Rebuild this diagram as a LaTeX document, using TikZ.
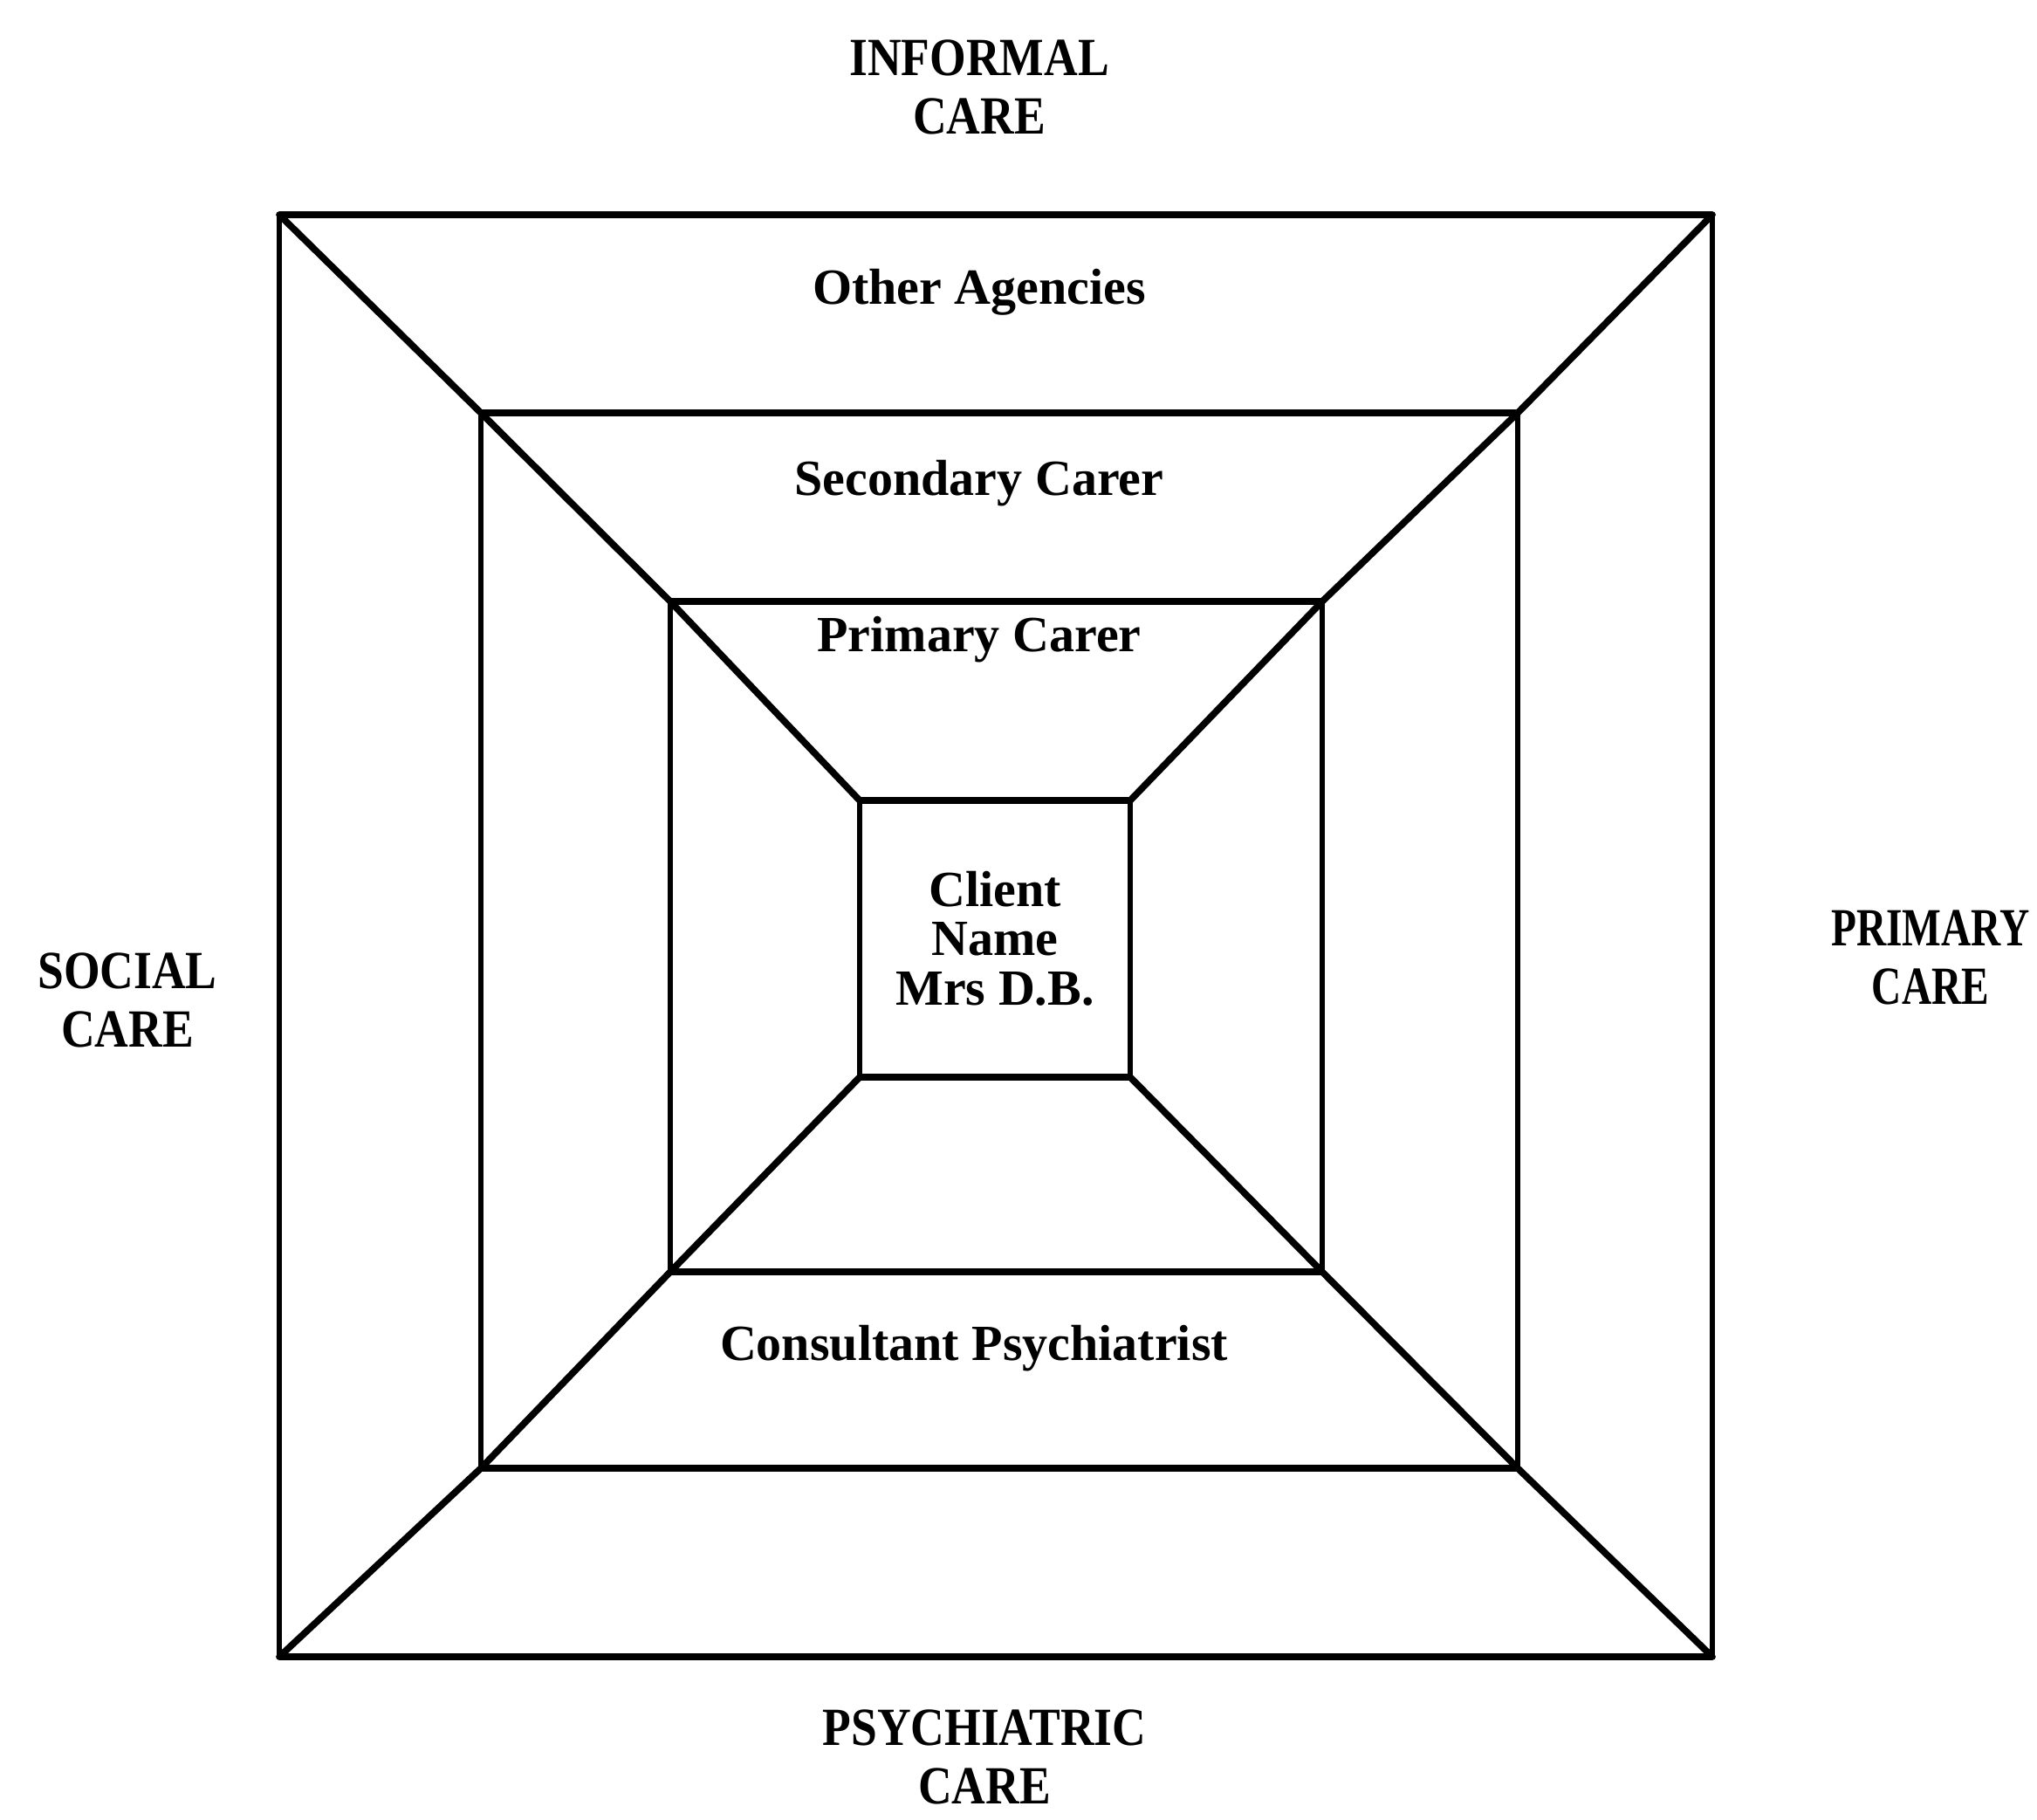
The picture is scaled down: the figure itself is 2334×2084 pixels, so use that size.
\documentclass[tikz,border=0pt]{standalone}
\usepackage{fontspec}
\setmainfont{Liberation Serif}
\newfontfamily\capfont{Liberation Serif}[FakeStretch=0.87]
\newfontfamily\narrowcapfont{Liberation Serif}[FakeStretch=0.77]
\begin{document}
\begin{tikzpicture}[x=0.01cm,y=-0.01cm,
  hline/.style={line width=2.4pt},
  vline/.style={line width=1.7pt},
  diag/.style={line width=2.2pt, line cap=round},
  caption/.style={font=\capfont\fontsize{17.5}{19}\selectfont\bfseries, align=center, inner sep=0pt},
  ring/.style={font=\fontsize{16.5}{16}\selectfont\bfseries, align=center, inner sep=0pt}]
\useasboundingbox (0,0) rectangle (2334,2084);
% corners of the four nested frames
\coordinate (otl) at (320,246);  \coordinate (otr) at (1962,246);
\coordinate (obl) at (320,1898); \coordinate (obr) at (1962,1898);
\coordinate (stl) at (551,473);  \coordinate (str) at (1739,473);
\coordinate (sbl) at (551,1682); \coordinate (sbr) at (1739,1682);
\coordinate (ttl) at (768,689);  \coordinate (ttr) at (1515,689);
\coordinate (tbl) at (768,1457); \coordinate (tbr) at (1515,1457);
\coordinate (ctl) at (985,917);  \coordinate (ctr) at (1295,917);
\coordinate (cbl) at (985,1234); \coordinate (cbr) at (1295,1234);
% diagonals joining the corners
\draw[diag] (otl) -- (stl) -- (ttl) -- (ctl);
\draw[diag] (otr) -- (str) -- (ttr) -- (ctr);
\draw[diag] (obl) -- (sbl) -- (tbl) -- (cbl);
\draw[diag] (obr) -- (sbr) -- (tbr) -- (cbr);
% horizontal edges
\foreach \a/\b in {otl/otr,obl/obr,stl/str,sbl/sbr,ttl/ttr,tbl/tbr,ctl/ctr,cbl/cbr}
  \draw[hline] (\a) -- (\b);
% vertical edges
\foreach \a/\b in {otl/obl,otr/obr,stl/sbl,str/sbr,ttl/tbl,ttr/tbr,ctl/cbl,ctr/cbr}
  \draw[vline] (\a) -- (\b);
% outer captions
\node[caption] (informal) at (1122,100) {INFORMAL\\CARE};
\node[caption] (social) at (146,1146) {SOCIAL\\CARE};
\node[caption, font=\narrowcapfont\fontsize{17.5}{19}\selectfont\bfseries] (primary) at (2212,1097) {PRIMARY\\CARE};
\node[caption] (psych) at (1128,2013) {PSYCHIATRIC\\CARE};
% labels inside the frames
\node[ring] (other) at (1122,335) {Other Agencies};
\node[ring] (second) at (1122,554) {Secondary Carer};
\node[ring] (primc) at (1122,733) {Primary Carer};
\node[ring] (consult) at (1116,1545) {Consultant Psychiatrist};
\node[ring] (client) at (1140,1075) {Client\\Name\\Mrs D.B.};
\end{tikzpicture}
\end{document}
